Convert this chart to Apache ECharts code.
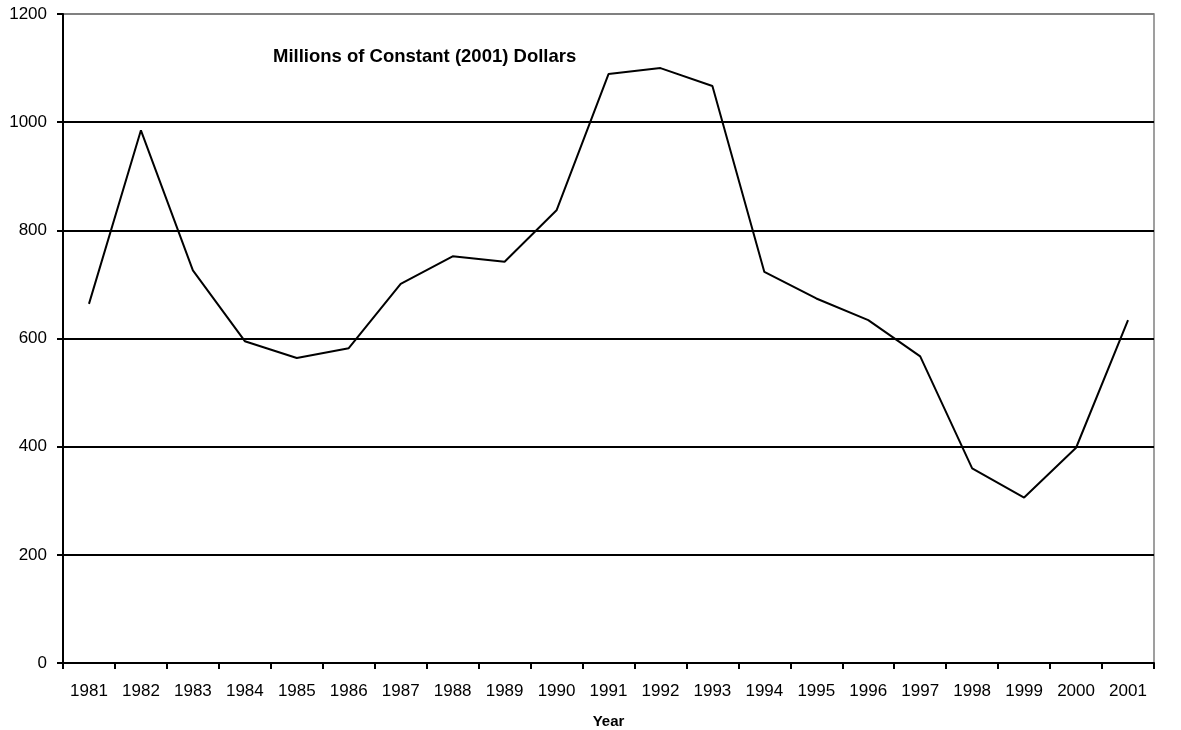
<!DOCTYPE html>
<html>
<head>
<meta charset="utf-8">
<script src="https://cdn.jsdelivr.net/npm/echarts@6/dist/echarts.min.js"></script>
<style>
  html, body { margin: 0; padding: 0; background: #fff; }
  #chart { width: 1181px; height: 730px; }
</style>
</head>
<body>
<div id="chart"></div>
<script>
// Annual values, millions of constant (2001) dollars
const years = ['1981','1982','1983','1984','1985','1986','1987','1988','1989','1990','1991',
               '1992','1993','1994','1995','1996','1997','1998','1999','2000','2001'];
const values = [664, 985, 726, 595, 564, 582, 701, 752, 742, 837, 1089,
                1100, 1067, 723, 674, 634, 567, 360, 306, 398, 634];
const yTicks = [0, 200, 400, 600, 800, 1000, 1200];

const font = 'Liberation Sans, Arial, sans-serif';
const chart = echarts.init(document.getElementById('chart'), null, { renderer: 'canvas' });

chart.setOption({
  animation: false,
  backgroundColor: '#ffffff',
  grid: {
    left: 63, right: 27, top: 14, bottom: 67,
    outerBoundsMode: 'none',
    containLabel: false,
    show: true, borderColor: '#808080', borderWidth: 1.5, backgroundColor: 'transparent'
  },
  title: {
    text: 'Millions of Constant (2001) Dollars',
    left: 273, top: 47, padding: 0,
    textStyle: { fontFamily: font, fontSize: 18.5, fontWeight: 'bold', color: '#000' }
  },
  xAxis: {
    type: 'category',
    data: years,
    boundaryGap: true,
    name: 'Year',
    nameLocation: 'middle',
    nameGap: 51,
    nameTextStyle: { fontFamily: font, fontSize: 15, fontWeight: 'bold', color: '#000' },
    axisLine: { lineStyle: { color: '#000', width: 2 } },
    axisTick: { show: true, length: 6, lineStyle: { color: '#000', width: 2 } },
    axisLabel: { fontFamily: font, fontSize: 17, color: '#000', margin: 20, interval: 0 },
    splitLine: { show: false }
  },
  yAxis: {
    type: 'value',
    min: yTicks[0],
    max: yTicks[yTicks.length - 1],
    interval: yTicks[1] - yTicks[0],
    axisLine: { show: true, lineStyle: { color: '#000', width: 2 } },
    axisTick: { show: true, length: 6, lineStyle: { color: '#000', width: 2 } },
    axisLabel: { fontFamily: font, fontSize: 17, color: '#000', margin: 16,
                 formatter: v => String(v) },
    splitLine: {
      show: true,
      lineStyle: { color: ['#000', '#000', '#000', '#000', '#000', '#000', '#808080'], width: 2 }
    }
  },
  series: [{
    type: 'line',
    data: values,
    symbol: 'none',
    smooth: false,
    lineStyle: { color: '#000', width: 2 }
  }]
});
</script>
</body>
</html>
